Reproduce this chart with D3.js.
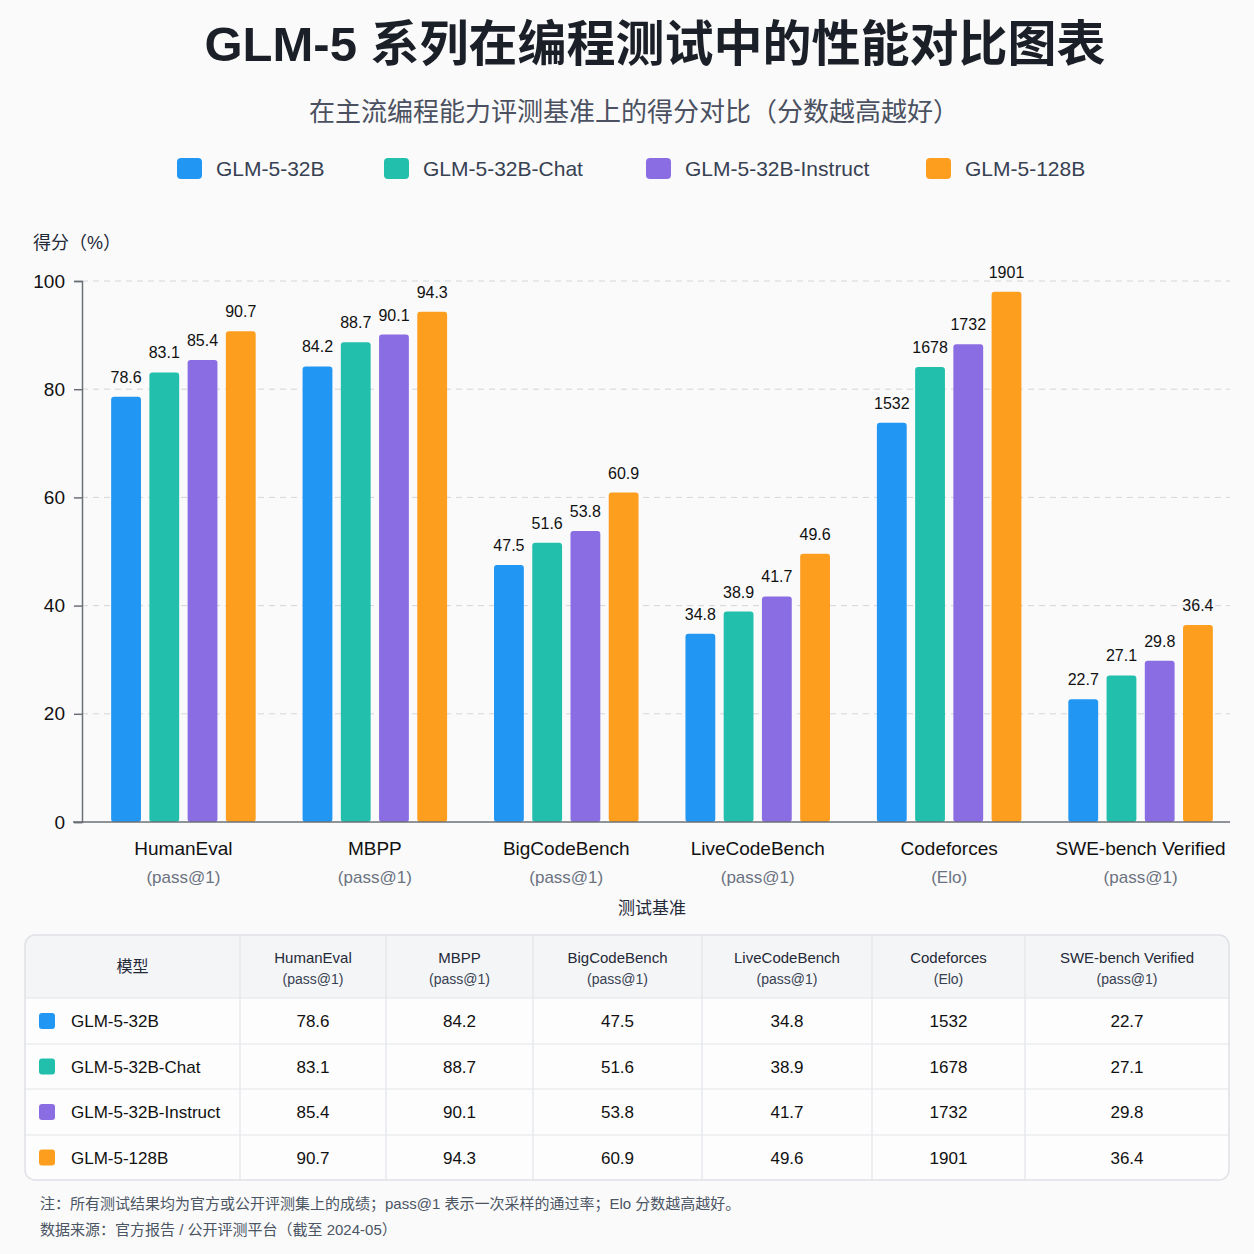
<!DOCTYPE html>
<html>
<head>
<meta charset="utf-8">
<script src="https://cdn.jsdelivr.net/npm/d3@7"></script>
<style>
  html, body { margin: 0; padding: 0; background: #fafafb; }
  svg text { font-family: "Liberation Sans", "Noto Sans CJK SC", "Noto Sans", sans-serif; }
</style>
</head>
<body>
<svg id="chart" width="1254" height="1254"></svg>
<script>
// benchmark names and their metric
var benchmarks = ["HumanEval", "MBPP", "BigCodeBench", "LiveCodeBench", "Codeforces", "SWE-bench Verified"];
var metrics = ["(pass@1)", "(pass@1)", "(pass@1)", "(pass@1)", "(Elo)", "(pass@1)"];

var models = ["GLM-5-32B", "GLM-5-32B-Chat", "GLM-5-32B-Instruct", "GLM-5-128B"];
var colors = ["#2196f3", "#22c0ac", "#8a6de3", "#fd9e1f"];

// scores per model, in benchmark order
var glm32b = [78.6, 84.2, 47.5, 34.8, 1532, 22.7];
var glm32bChat = [83.1, 88.7, 51.6, 38.9, 1678, 27.1];
var glm32bInstruct = [85.4, 90.1, 53.8, 41.7, 1732, 29.8];
var glm128b = [90.7, 94.3, 60.9, 49.6, 1901, 36.4];

// Codeforces Elo bars are drawn on the % axis at these heights
var codeforcesBarHeight = [73.8, 84.1, 88.3, 98.0];

var yTicks = [0, 20, 40, 60, 80, 100];

var series = [glm32b, glm32bChat, glm32bInstruct, glm128b];

var svg = d3.select("#chart");

// title
svg.append("text").attr("x", 655).attr("y", 61).attr("text-anchor", "middle")
	.attr("font-size", 49).attr("font-weight", 700).attr("fill", "#1b1f27")
	.text("GLM-5 系列在编程测试中的性能对比图表");

svg.append("text").attr("x", 634).attr("y", 121).attr("text-anchor", "middle")
	.attr("font-size", 26).attr("fill", "#4b5160")
	.text("在主流编程能力评测基准上的得分对比（分数越高越好）");

// legend
var legendX = [177, 384, 646, 926];
var legend = svg.append("g");
models.forEach(function (m, i) {
	legend.append("rect").attr("x", legendX[i]).attr("y", 158).attr("width", 25).attr("height", 21)
		.attr("rx", 4).attr("fill", colors[i]);
	legend.append("text").attr("x", legendX[i] + 39).attr("y", 176)
		.attr("font-size", 21).attr("fill", "#374151").text(m);
});

// axes
var x0 = d3.scaleBand().domain(benchmarks).range([92, 1232]).paddingInner(0.245).paddingOuter(0.1);
var x1 = d3.scaleBand().domain(d3.range(models.length)).range([0, x0.bandwidth()]).paddingInner(0.22);
var y = d3.scaleLinear().domain([0, 100]).range([822, 281]);

svg.append("text").attr("x", 33).attr("y", 249).attr("font-size", 18).attr("fill", "#1f2937").text("得分（%）");

var grid = svg.append("g");
yTicks.filter(function (t) { return t > 0; }).forEach(function (t) {
	grid.append("line").attr("x1", 82).attr("x2", 1230).attr("y1", y(t)).attr("y2", y(t))
		.attr("stroke", "#d4d6da").attr("stroke-dasharray", "6,5").attr("stroke-width", 1);
});

var yAxis = svg.append("g").attr("transform", "translate(82,0)")
	.call(d3.axisLeft(y).tickValues(yTicks).tickSize(8).tickPadding(9));
yAxis.select(".domain").attr("stroke", "#6b6f76").attr("stroke-width", 1.5);
yAxis.selectAll(".tick line").attr("stroke", "#6b6f76").attr("stroke-width", 1.5);
yAxis.selectAll(".tick text").attr("font-size", 19).attr("fill", "#111")
	.style("font-family", "'Liberation Sans', 'Noto Sans', sans-serif");

// bars
var groups = svg.append("g").selectAll("g").data(benchmarks).enter().append("g")
	.attr("transform", function (d) { return "translate(" + x0(d) + ",0)"; });

groups.each(function (b, bi) {
	var g = d3.select(this);
	series.forEach(function (s, mi) {
		var v = s[bi];
		var h = b === "Codeforces" ? codeforcesBarHeight[mi] : v;
		g.append("rect").attr("x", x1(mi)).attr("y", y(h)).attr("width", x1.bandwidth())
			.attr("height", y(0) - y(h)).attr("rx", 3).attr("fill", colors[mi]);
		g.append("text").attr("x", x1(mi) + x1.bandwidth() / 2).attr("y", y(h) - 14)
			.attr("text-anchor", "middle").attr("font-size", 16).attr("fill", "#111")
			.text(b === "Codeforces" ? d3.format("d")(v) : d3.format(".1f")(v));
	});
});

// x baseline
svg.append("line").attr("x1", 73).attr("x2", 1230).attr("y1", y(0)).attr("y2", y(0))
	.attr("stroke", "#6b6f76").attr("stroke-width", 1.5);

// x labels
benchmarks.forEach(function (b, i) {
	var cx = x0(b) + x0.bandwidth() / 2;
	svg.append("text").attr("x", cx).attr("y", 855).attr("text-anchor", "middle")
		.attr("font-size", 19).attr("fill", "#111").text(b);
	svg.append("text").attr("x", cx).attr("y", 883).attr("text-anchor", "middle")
		.attr("font-size", 17).attr("fill", "#6b7280").text(metrics[i]);
});

svg.append("text").attr("x", 652).attr("y", 914).attr("text-anchor", "middle")
	.attr("font-size", 17).attr("fill", "#1f2937").text("测试基准");

// table
var colEdges = [25, 240, 386, 533, 702, 872, 1025, 1229];
var rowEdges = [935, 998, 1044, 1089, 1135, 1180];
var table = svg.append("g");

table.append("clipPath").attr("id", "tclip").append("rect")
	.attr("x", colEdges[0]).attr("y", rowEdges[0]).attr("width", colEdges[7] - colEdges[0])
	.attr("height", rowEdges[5] - rowEdges[0]).attr("rx", 10);

var tbody = table.append("g").attr("clip-path", "url(#tclip)");
tbody.append("rect").attr("x", colEdges[0]).attr("y", rowEdges[0]).attr("width", colEdges[7] - colEdges[0])
	.attr("height", rowEdges[5] - rowEdges[0]).attr("fill", "#fdfdfd");
tbody.append("rect").attr("x", colEdges[0]).attr("y", rowEdges[0]).attr("width", colEdges[7] - colEdges[0])
	.attr("height", rowEdges[1] - rowEdges[0]).attr("fill", "#f4f5f7");

colEdges.slice(1, 7).forEach(function (cx) {
	tbody.append("line").attr("x1", cx).attr("x2", cx).attr("y1", rowEdges[0]).attr("y2", rowEdges[5])
		.attr("stroke", "#e3e5e9").attr("stroke-width", 1.2);
});
rowEdges.slice(1, 5).forEach(function (ry) {
	tbody.append("line").attr("x1", colEdges[0]).attr("x2", colEdges[7]).attr("y1", ry).attr("y2", ry)
		.attr("stroke", "#e3e5e9").attr("stroke-width", 1.2);
});
table.append("rect").attr("x", colEdges[0]).attr("y", rowEdges[0]).attr("width", colEdges[7] - colEdges[0])
	.attr("height", rowEdges[5] - rowEdges[0]).attr("rx", 10).attr("fill", "none")
	.attr("stroke", "#dfe1e5").attr("stroke-width", 1.5);

table.append("text").attr("x", (colEdges[0] + colEdges[1]) / 2).attr("y", 972).attr("text-anchor", "middle")
	.attr("font-size", 16).attr("fill", "#1f2937").text("模型");

benchmarks.forEach(function (b, i) {
	var cx = (colEdges[i + 1] + colEdges[i + 2]) / 2;
	table.append("text").attr("x", cx).attr("y", 963).attr("text-anchor", "middle")
		.attr("font-size", 15).attr("fill", "#1f2937").text(b);
	table.append("text").attr("x", cx).attr("y", 984).attr("text-anchor", "middle")
		.attr("font-size", 14).attr("fill", "#374151").text(metrics[i]);
});

models.forEach(function (m, mi) {
	var cy = (rowEdges[mi + 1] + rowEdges[mi + 2]) / 2;
	table.append("rect").attr("x", 39).attr("y", cy - 8).attr("width", 16).attr("height", 16)
		.attr("rx", 3).attr("fill", colors[mi]);
	table.append("text").attr("x", 71).attr("y", cy + 6).attr("font-size", 17).attr("fill", "#111").text(m);
	series[mi].forEach(function (v, bi) {
		var cx = (colEdges[bi + 1] + colEdges[bi + 2]) / 2;
		table.append("text").attr("x", cx).attr("y", cy + 6).attr("text-anchor", "middle")
			.attr("font-size", 17).attr("fill", "#111")
			.text(benchmarks[bi] === "Codeforces" ? d3.format("d")(v) : d3.format(".1f")(v));
	});
});

// footnotes
svg.append("text").attr("x", 40).attr("y", 1209).attr("font-size", 15).attr("fill", "#4b5563")
	.text("注：所有测试结果均为官方或公开评测集上的成绩；pass@1 表示一次采样的通过率；Elo 分数越高越好。");
svg.append("text").attr("x", 40).attr("y", 1235).attr("font-size", 15).attr("fill", "#4b5563")
	.text("数据来源：官方报告 / 公开评测平台（截至 2024-05）");
</script>
</body>
</html>
